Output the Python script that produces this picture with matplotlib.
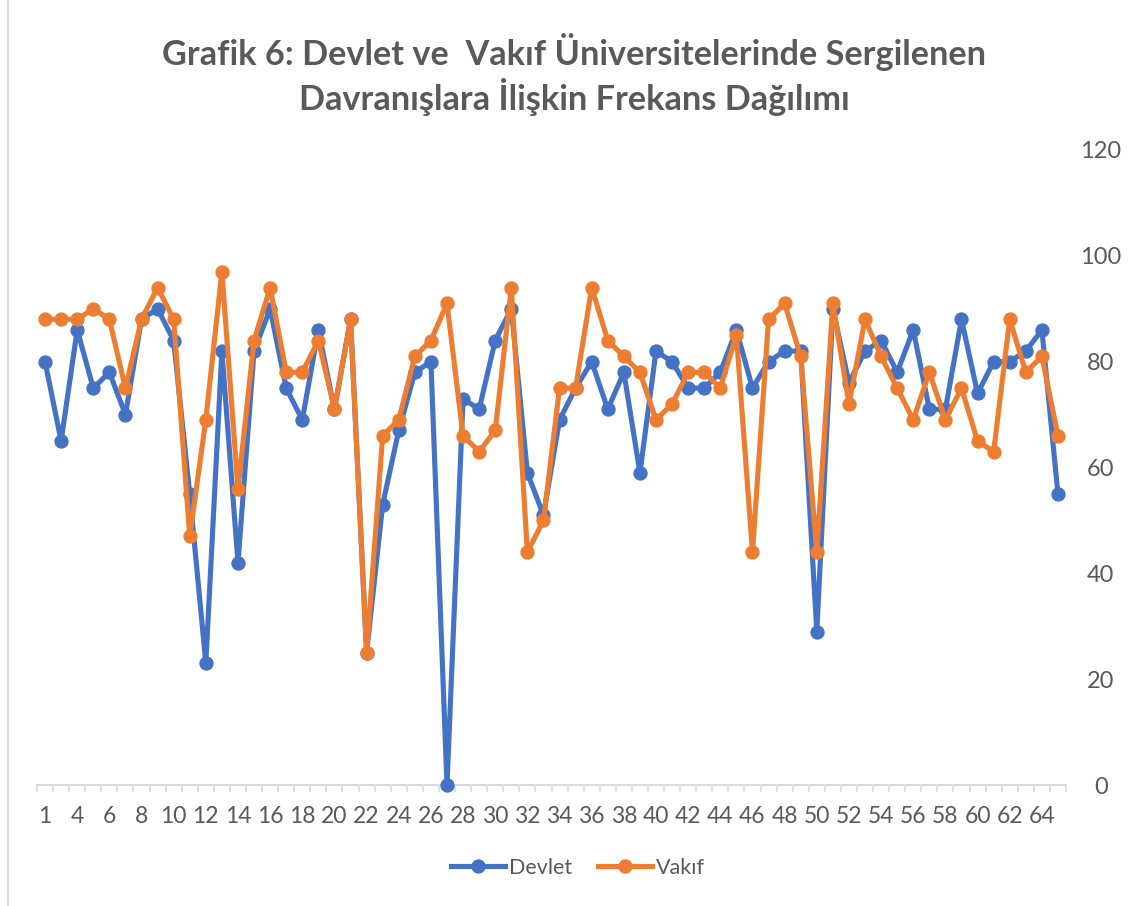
import matplotlib
matplotlib.use("Agg")
import matplotlib.pyplot as plt
from matplotlib.lines import Line2D

plt.rcParams["font.family"] = ["Lato", "DejaVu Sans"]

# category labels (only every other one is shown on the axis)
categories = ["1", "2", "4", "5", "6", "7", "8", "9", "10", "11", "12", "13", "14", "15",
              "16", "17", "18", "19", "20", "21", "22", "23", "24", "25", "26", "27", "28",
              "29", "30", "31", "32", "33", "34", "35", "36", "37", "38", "39", "40", "41",
              "42", "43", "44", "45", "46", "47", "48", "49", "50", "51", "52", "53", "54",
              "55", "56", "57", "58", "59", "60", "61", "62", "63", "64", "65"]

devlet = [80, 65, 86, 75, 78, 70, 88, 90, 84, 55, 23, 82, 42, 82, 90, 75,
          69, 86, 71, 88, 25, 53, 67, 78, 80, 0, 73, 71, 84, 90, 59, 51,
          69, 75, 80, 71, 78, 59, 82, 80, 75, 75, 78, 86, 75, 80, 82, 82,
          29, 90, 76, 82, 84, 78, 86, 71, 71, 88, 74, 80, 80, 82, 86, 55]

vakif = [88, 88, 88, 90, 88, 75, 88, 94, 88, 47, 69, 97, 56, 84, 94, 78,
         78, 84, 71, 88, 25, 66, 69, 81, 84, 91, 66, 63, 67, 94, 44, 50,
         75, 75, 94, 84, 81, 78, 69, 72, 78, 78, 75, 85, 44, 88, 91, 81,
         44, 91, 72, 88, 81, 75, 69, 78, 69, 75, 65, 63, 88, 78, 81, 66]

y_ticks = [0, 20, 40, 60, 80, 100, 120]

blue = "#4472C4"
orange = "#ED7D31"
grey_text = "#595959"
axis_grey = "#D9D9D9"

LW, MS = 3.7, 9.3

W, H = 1139, 906
fig = plt.figure(figsize=(W / 100, H / 100), dpi=100)
ax = fig.add_axes([37 / W, 1 - 785 / H, (1066 - 37) / W, (785 - 150) / H])

x = list(range(len(categories)))
ax.plot(x, devlet, color=blue, lw=LW, marker="o", ms=MS, label="Devlet",
        solid_joinstyle="round", solid_capstyle="round", clip_on=False, zorder=3)
ax.plot(x, vakif, color=orange, lw=LW, marker="o", ms=MS, label="Vakıf",
        solid_joinstyle="round", solid_capstyle="round", clip_on=False, zorder=4)

ax.set_xlim(-0.5, len(categories) - 0.5)
ax.set_ylim(0, 120)

# y axis on the right, no line
ax.yaxis.tick_right()
ax.set_yticks(y_ticks)
ax.set_yticklabels([str(v) for v in y_ticks])
ax.tick_params(axis="y", length=0, pad=25, labelsize=17, labelcolor=grey_text)
for lab in ax.get_yticklabels():
    lab.set_horizontalalignment("center")

# x axis: labels on every other category, tick marks between categories
ax.set_xticks(x[::2])
ax.set_xticklabels(categories[::2])
ax.set_xticks([i - 0.5 for i in range(len(categories) + 1)], minor=True)
ax.tick_params(axis="x", which="major", length=0, pad=15, labelsize=16.5, labelcolor=grey_text)
ax.tick_params(axis="x", which="minor", length=5, width=1.2, color=axis_grey)

for side in ["left", "right", "top"]:
    ax.spines[side].set_visible(False)
ax.spines["bottom"].set_color(axis_grey)
ax.spines["bottom"].set_linewidth(1.5)

fig.text(0.504, 1 - 52 / H, "Grafik 6: Devlet ve  Vakıf Üniversitelerinde Sergilenen",
         ha="center", va="center", fontsize=24.7, fontweight="bold", color=grey_text)
fig.text(0.504, 1 - 97 / H, "Davranışlara İlişkin Frekans Dağılımı",
         ha="center", va="center", fontsize=24.7, fontweight="bold", color=grey_text)

handles = [Line2D([], [], color=blue, lw=LW, marker="o", ms=MS),
           Line2D([], [], color=orange, lw=LW, marker="o", ms=MS)]
fig.legend(handles, ["Devlet", "Vakıf"], loc="center", bbox_to_anchor=(578 / W, 1 - 868 / H),
           ncol=2, frameon=False, fontsize=15.5, labelcolor=grey_text,
           handlelength=2.5, handletextpad=0.2, columnspacing=1.2)

# thin frame line on the left edge of the chart area
fig.add_artist(Line2D([8 / W, 8 / W], [0, 1], transform=fig.transFigure, color=axis_grey, lw=1.5))

fig.savefig("out.png", dpi=100, facecolor="white")
